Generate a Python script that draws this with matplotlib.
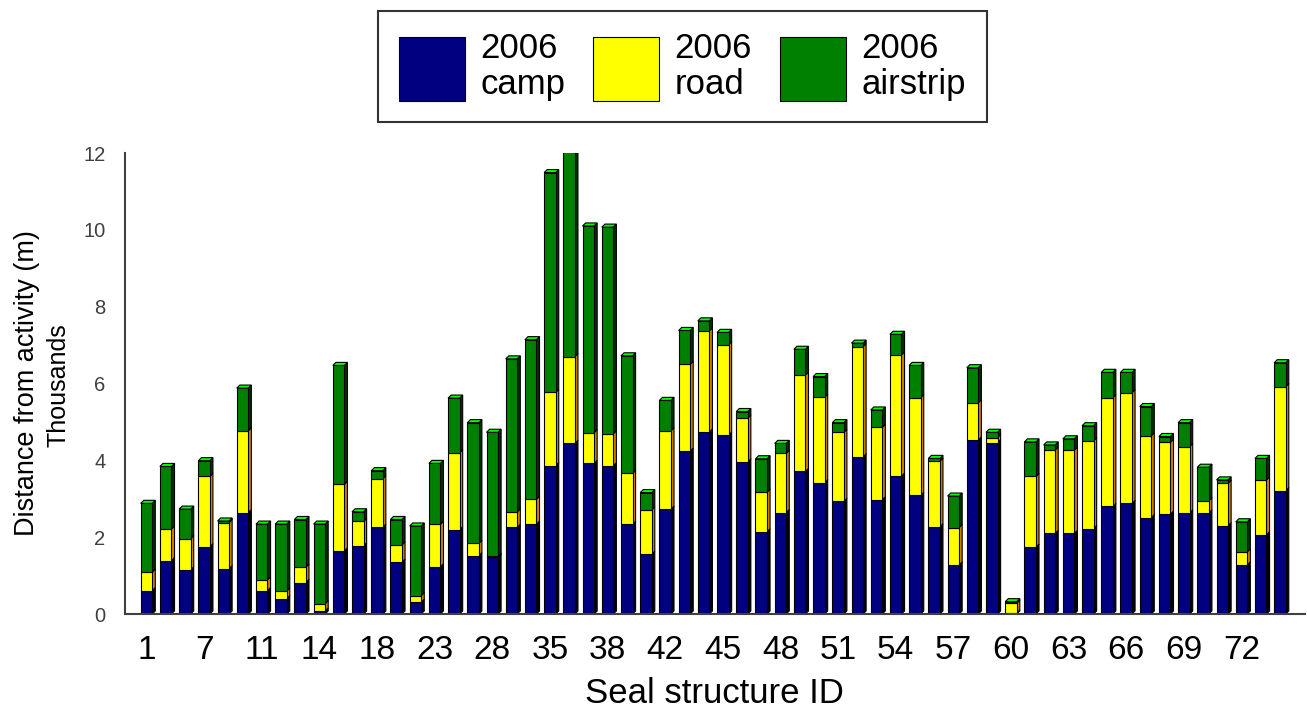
import matplotlib
matplotlib.use("Agg")
import matplotlib.pyplot as plt
from matplotlib.patches import Polygon, Patch
import numpy as np

plt.rcParams['font.family'] = ['Liberation Sans', 'DejaVu Sans']

# segment heights (thousands of m) for the 60 seal structures, left to right
camp = [0.61, 1.39, 1.15, 1.75, 1.18, 2.64, 0.61, 0.40, 0.82, 0.08,
        1.64, 1.77, 2.26, 1.35, 0.31, 1.23, 2.19, 1.52, 1.48, 2.26,
        2.34, 3.86, 4.44, 3.92, 3.86, 2.34, 1.56, 2.73, 4.24, 4.74,
        4.66, 3.96, 2.14, 2.64, 3.71, 3.42, 2.93, 4.09, 2.97, 3.59,
        3.09, 2.27, 1.28, 4.53, 4.46, 0.03, 1.74, 2.10, 2.10, 2.22,
        2.80, 2.88, 2.51, 2.60, 2.63, 2.63, 2.30, 1.28, 2.06, 3.21]
road = [0.48, 0.82, 0.81, 1.83, 1.20, 2.13, 0.28, 0.20, 0.40, 0.19,
        1.74, 0.64, 1.26, 0.45, 0.17, 1.11, 2.01, 0.32, 0.02, 0.40,
        0.65, 1.91, 2.26, 0.80, 0.83, 1.32, 1.15, 2.04, 2.26, 2.63,
        2.35, 1.14, 1.03, 1.54, 2.51, 2.22, 1.80, 2.87, 1.89, 3.15,
        2.54, 1.71, 0.97, 0.97, 0.13, 0.25, 1.84, 2.17, 2.17, 2.29,
        2.83, 2.88, 2.13, 1.87, 1.73, 0.32, 1.10, 0.34, 1.43, 2.71]
airstrip = [1.79, 1.63, 0.77, 0.41, 0.04, 1.11, 1.45, 1.74, 1.24, 2.07,
            3.09, 0.25, 0.21, 0.66, 1.81, 1.58, 1.42, 3.14, 3.23, 3.98,
            4.15, 5.72, 5.40, 5.38, 5.38, 3.06, 0.45, 0.79, 0.88, 0.26,
            0.32, 0.17, 0.87, 0.26, 0.67, 0.54, 0.25, 0.09, 0.45, 0.54,
            0.84, 0.07, 0.82, 0.91, 0.14, 0.04, 0.90, 0.13, 0.29, 0.39,
            0.66, 0.53, 0.76, 0.15, 0.62, 0.87, 0.09, 0.78, 0.56, 0.62]

# only every third structure is labelled on the axis
tick_labels = ['1', '7', '11', '14', '18', '23', '28', '35', '38', '42',
               '45', '48', '51', '54', '57', '60', '63', '66', '69', '72']

# name, values, front colour, side colour
series = [
    ("2006\ncamp", camp, "#000080", "#000018"),
    ("2006\nroad", road, "#ffff00", "#d08000"),
    ("2006\nairstrip", airstrip, "#008000", "#003000"),
]

fig = plt.figure(figsize=(13.07, 7.11), dpi=100)
ax = fig.add_axes([0.0956, 0.1364, 0.9028, 0.6484])

x = np.arange(len(camp))
w = 0.60      # front face width
dx = 0.16     # depth offset (x units)
dy = 0.08     # depth offset (y units)

bottom = np.zeros(len(x))
for name, vals, front, side in series:
    vals = np.array(vals)
    ax.bar(x, vals, width=w, bottom=bottom, color=front,
           edgecolor="black", linewidth=0.8, zorder=3)
    # fake 3d side face
    for xi, b, h in zip(x, bottom, vals):
        r = xi + w / 2
        ax.add_patch(Polygon([(r, b), (r + dx, b + dy), (r + dx, b + h + dy), (r, b + h)],
                             closed=True, facecolor=side, edgecolor="black",
                             linewidth=0.8, zorder=2))
    bottom = bottom + vals

# top faces of the stacks
for xi, t in zip(x, bottom):
    l = xi - w / 2
    ax.add_patch(Polygon([(l, t), (l + dx, t + dy), (l + w + dx, t + dy), (l + w, t)],
                         closed=True, facecolor="#00ff00", edgecolor="black",
                         linewidth=0.8, zorder=4))

ax.set_xlim(-1.12, 60.3)
ax.set_ylim(0, 12)
ax.set_yticks(range(0, 13, 2))
ax.set_xticks(x[::3])
ax.set_xticklabels(tick_labels)
ax.set_xticks(x, minor=True)

for s in ["top", "right"]:
    ax.spines[s].set_visible(False)
for s in ["left", "bottom"]:
    ax.spines[s].set_color("#404040")
    ax.spines[s].set_linewidth(1.5)
    ax.spines[s].set_zorder(5)

ax.tick_params(axis="x", which="major", direction="in", length=9, width=1,
               labelsize=24, pad=15)
ax.tick_params(axis="x", which="minor", direction="in", length=3, width=1)
ax.tick_params(axis="y", length=0, labelsize=14.5, labelcolor="#404040", pad=14)

ax.set_xlabel("Seal structure ID", fontsize=25, labelpad=8)

# y axis title: two lines of slightly different size
fig.text(0.0207, 0.4613, "Distance from activity (m)", rotation=90,
         ha="center", va="center", fontsize=19.5)
fig.text(0.0451, 0.4585, "Thousands", rotation=90,
         ha="center", va="center", fontsize=18)

handles = [Patch(facecolor=s[2], edgecolor="black", linewidth=0.8) for s in series]
labels = [s[0] for s in series]
leg = fig.legend(handles, labels, loc="center", bbox_to_anchor=(0.522, 0.906),
                 ncol=3, fontsize=25, frameon=True, fancybox=False,
                 edgecolor="black", handlelength=1.9, handleheight=2.46,
                 handletextpad=0.45, columnspacing=0.8, borderpad=0.6)
leg.get_frame().set_linewidth(1.5)
for t in leg.get_texts():
    t.set_linespacing(1.12)

fig.savefig("out.png", dpi=100)
